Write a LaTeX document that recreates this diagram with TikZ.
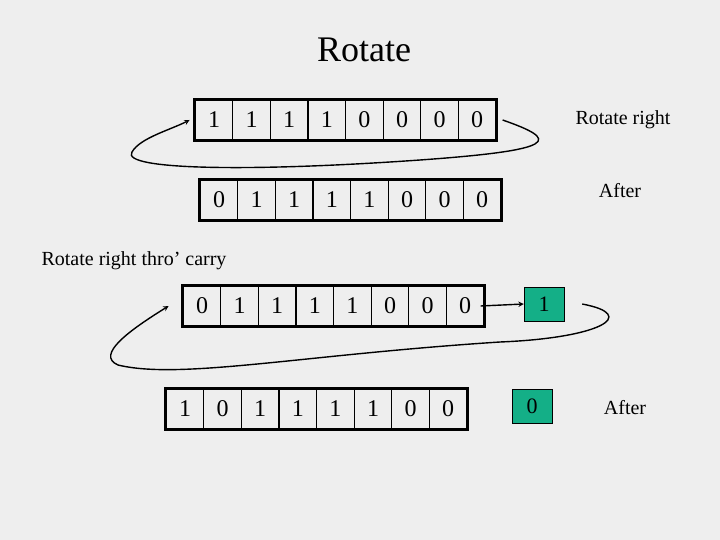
\documentclass[tikz,border=0pt]{standalone}
\usepackage{fontspec}
\setmainfont{Liberation Serif}
\usetikzlibrary{positioning}
\definecolor{carrygreen}{RGB}{20,175,135}
\tikzset{
  bit/.style={draw, line width=1.2pt, minimum width=37.6pt, minimum height=40pt,
    inner sep=0pt, font=\fontsize{24}{24}\selectfont},
  carry/.style={draw, fill=carrygreen, minimum width=40pt, minimum height=34pt,
    inner sep=0pt, font=\fontsize{22}{22}\selectfont},
  lbl/.style={font=\fontsize{20}{20}\selectfont},
  loop/.style={->, line width=1.4pt}
}
\begin{document}
\begin{tikzpicture}[>=stealth, x=1pt, y=-1pt]
\fill[gray!13] (0,0) rectangle (720,540);
\useasboundingbox (0,0) rectangle (720,540);
\node[font=\fontsize{36}{36}\selectfont] (title) at (364,50) {Rotate};
% rows of bits
\foreach \row/\x/\y/\bits in {a/214/120/{1,1,1,1,0,0,0,0}, b/219/200/{0,1,1,1,1,0,0,0},
    c/202/306/{0,1,1,1,1,0,0,0}, d/185/409/{1,0,1,1,1,1,0,0}}{
  \foreach \b [count=\i] in \bits
    \node[bit] (\row\i) at ({\x+(\i-1)*37.6},\y) {\b};
  \draw[line width=2.4pt] (\row1.north west) rectangle (\row8.south east);
}
\node[lbl] (rr) at (623,120) {Rotate right};
\node[lbl] (after1) at (620,191) {After};
\node[lbl, anchor=west] (rrc) at (38,261) {Rotate right thro' carry};
\node[carry] (cyA) at (544,304) {1};
\node[carry] (cyB) at (532,406) {0};
\node[lbl] (after2) at (625,408) {After};
% connectors
\draw[loop] ([xshift=6pt]a8.east) .. controls (560,140) and (560,150) .. (420,160)
  .. controls (250,172) and (120,170) .. (132,152)
  .. controls (140,138) and (170,130) .. ([xshift=-5pt]a1.west);
\draw[loop] ([xshift=-4pt]c8.east) -- (cyA.west);
\draw[loop] ([xshift=18pt]cyA.east) .. controls (640,315) and (600,338) .. (500,342)
  .. controls (300,355) and (180,380) .. (118,365)
  .. controls (95,355) and (130,330) .. ([xshift=-14pt]c1.west);
\end{tikzpicture}
\end{document}
